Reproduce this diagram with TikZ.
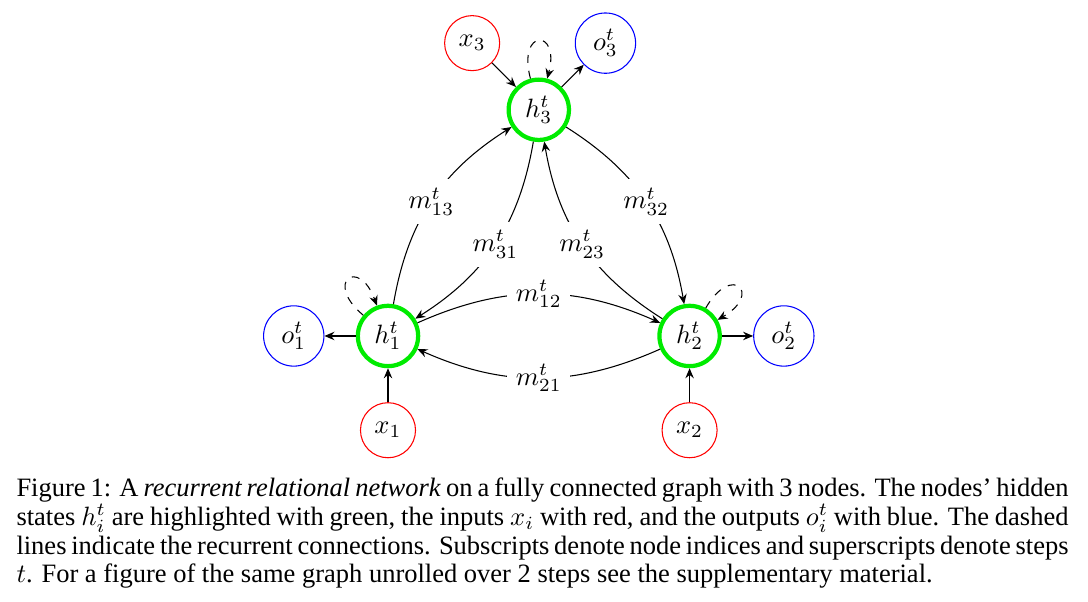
\documentclass[tikz,border=0pt]{standalone}
\usepackage{fontspec}
\usepackage{amsmath}
\usepackage{tikz}
\usetikzlibrary{arrows,arrows.meta}
\newfontfamily\capfont{Liberation Serif}
\definecolor{eingang}{RGB}{255,0,0}
\definecolor{zustand}{RGB}{0,235,0}
\definecolor{ausgang}{RGB}{0,0,255}

\begin{document}
\begin{tikzpicture}[>={Stealth[length=3.8pt, width=3.2pt, inset=1.3pt]},
	inp/.style={circle, draw=eingang, minimum size=0.73cm, inner sep=0pt},
	hid/.style={circle, draw=zustand, ultra thick, minimum size=0.8cm, inner sep=0pt},
	outp/.style={circle, draw=ausgang, minimum size=0.8cm, inner sep=0pt},
	msg/.style={fill=white},
	rueck/.style={dashed, ->, looseness=8, min distance=5mm}]

	\useasboundingbox (-5.146,-3.515) rectangle (9.284,4.456);

	% hidden states
	\node[hid] (h1) at (0,0) {$h^t_1$};
	\node[hid] (h2) at (4,0) {$h^t_2$};
	\node[hid] (h3) at (2,3) {$h^t_3$};
	% inputs and outputs
	\node[inp] (x1) at (0,-1.25) {$x_1$};
	\node[inp] (x2) at (4,-1.25) {$x_2$};
	\node[inp] (x3) at (1.116,3.884) {$x_3$};
	\node[outp] (o1) at (-1.25,0) {$o^t_1$};
	\node[outp] (o2) at (5.25,0) {$o^t_2$};
	\node[outp] (o3) at (2.884,3.884) {$o^t_3$};

	\draw[->] (x1) -- (h1);
	\draw[->] (x2) -- (h2);
	\draw[->] (x3) -- (h3);
	\draw[->] (h1) -- (o1);
	\draw[->] (h2) -- (o2);
	\draw[->] (h3) -- (o3);

	% recurrent connections
	\draw[rueck] (h1) to[out=140, in=110] (h1);
	\draw[rueck] (h2) to[out=60, in=30] (h2);
	\draw[rueck] (h3) to[out=105, in=75] (h3);

	% messages
	\draw[->] (h1) to[bend left=24] node[msg] {$m^t_{12}$} (h2);
	\draw[->] (h2) to[bend left=24] node[msg] {$m^t_{21}$} (h1);
	\draw[->] (h1) to[bend left=24] node[msg] {$m^t_{13}$} (h3);
	\draw[->] (h3) to[bend left=24] node[msg] {$m^t_{31}$} (h1);
	\draw[->] (h2) to[bend left=24] node[msg] {$m^t_{23}$} (h3);
	\draw[->] (h3) to[bend left=24] node[msg] {$m^t_{32}$} (h2);

	\node[anchor=base west, text width=397pt, align=justify, inner sep=0pt,
		font=\capfont\fontsize{10pt}{10.8pt}\selectfont] (cap) at (-4.934,-2.135)
		{Figure 1: A \textit{recurrent relational network} on a fully connected graph with 3 nodes. The nodes’ hidden\linebreak
		states $h^t_i$ are highlighted with green, the inputs $x_i$ with red, and the outputs $o^t_i$ with blue. The dashed\linebreak
		lines indicate the recurrent connections. Subscripts denote node indices and superscripts denote steps\linebreak
		$t$. For a figure of the same graph unrolled over 2 steps see the supplementary material.};

\end{tikzpicture}
\end{document}
